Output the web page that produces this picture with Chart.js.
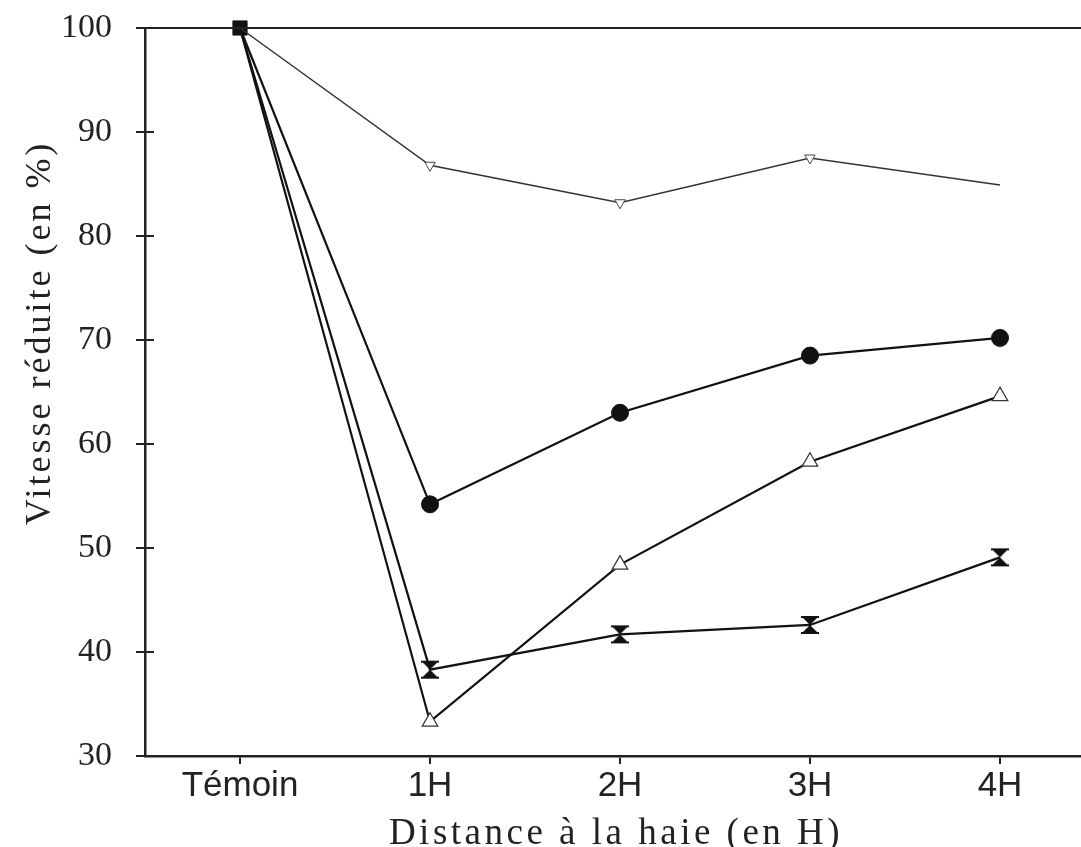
<!DOCTYPE html>
<html>
<head>
<meta charset="utf-8">
<script src="https://cdn.jsdelivr.net/npm/chart.js@4.4.1/dist/chart.umd.min.js"></script>
<style>
  html, body { margin: 0; padding: 0; background: #fff; overflow: hidden; }
  #zone { width: 1081px; height: 847px; }
</style>
</head>
<body>
<div id="zone"><canvas id="graphique"></canvas></div>
<script>
// Données
const categories = ["Témoin", "1H", "2H", "3H", "4H"];
const yTicks = [30, 40, 50, 60, 70, 80, 90, 100];

const serieHaut = [100, 86.8, 83.2, 87.5, 84.9];
const serieRonds = [100, 54.2, 63.0, 68.5, 70.2];
const serieTriangles = [100, 33.3, 48.4, 58.3, 64.6];
const serieSabliers = [100, 38.3, 41.7, 42.6, 49.1];

const titreX = "Distance à la haie (en H)";
const titreY = "Vitesse réduite (en %)";

// marqueur "sablier" (deux triangles pleins + barres)
function sablier() {
  const c = document.createElement("canvas");
  c.width = 22; c.height = 22;
  const g = c.getContext("2d");
  g.fillStyle = "#111";
  g.beginPath();
  g.moveTo(3, 3); g.lineTo(19, 3); g.lineTo(11, 11); g.closePath();
  g.moveTo(3, 19); g.lineTo(19, 19); g.lineTo(11, 11); g.closePath();
  g.fill();
  g.fillRect(2, 2, 18, 2);
  g.fillRect(2, 18, 18, 2);
  return c;
}

function points(vals) {
  return vals.map((v, i) => ({ x: i, y: v }));
}

// graduations qui traversent l'axe, cadre du haut et titres espacés
const decor = {
  id: "decor",
  afterDraw(chart) {
    const ctx = chart.ctx;
    const a = chart.chartArea;
    const y = chart.scales.y;
    ctx.save();
    ctx.strokeStyle = "#222";
    ctx.lineWidth = 2;
    yTicks.forEach(t => {
      if (t === 30 || t === 100) return;
      const py = y.getPixelForValue(t);
      ctx.beginPath();
      ctx.moveTo(a.left, py);
      ctx.lineTo(a.left + 9, py);
      ctx.stroke();
    });
    ctx.beginPath();
    ctx.moveTo(a.left, a.top);
    ctx.lineTo(a.right, a.top);
    ctx.stroke();

    // titres des axes
    ctx.fillStyle = "#222";
    ctx.font = "37px 'Liberation Serif'";
    ctx.letterSpacing = "3.5px";
    ctx.textAlign = "center";
    ctx.textBaseline = "alphabetic";
    ctx.fillText(titreX, 616, 844);

    ctx.font = "36px 'Liberation Serif'";
    ctx.letterSpacing = "3px";
    ctx.translate(50, 333);
    ctx.rotate(-Math.PI / 2);
    ctx.fillText(titreY, 0, 0);
    ctx.restore();
  }
};

const ctx = document.getElementById("graphique").getContext("2d");

new Chart(ctx, {
  type: "line",
  data: {
    datasets: [
      {
        label: "série haute",
        data: points(serieHaut),
        borderColor: "#333",
        borderWidth: 1.5,
        pointStyle: "triangle",
        rotation: 180,
        pointRadius: [0, 6, 6, 6, 0],
        pointBorderColor: "#444",
        pointBackgroundColor: "#fff",
        pointBorderWidth: 1
      },
      {
        label: "ronds",
        data: points(serieRonds),
        borderColor: "#111",
        borderWidth: 2.2,
        pointStyle: ["rect", "circle", "circle", "circle", "circle"],
        pointRadius: [10, 8.5, 8.5, 8.5, 8.5],
        pointBackgroundColor: "#111",
        pointBorderColor: "#111",
        pointBorderWidth: 1
      },
      {
        label: "triangles",
        data: points(serieTriangles),
        borderColor: "#111",
        borderWidth: 2.2,
        pointStyle: "triangle",
        pointRadius: [0, 9, 9, 9, 9],
        pointBackgroundColor: "#fff",
        pointBorderColor: "#333",
        pointBorderWidth: 1.2
      },
      {
        label: "sabliers",
        data: points(serieSabliers),
        borderColor: "#111",
        borderWidth: 2.2,
        pointStyle: sablier(),
        pointRadius: [0, 10, 10, 10, 10]
      }
    ]
  },
  options: {
    responsive: true,
    maintainAspectRatio: false,
    animation: false,
    clip: false,
    layout: { autoPadding: false, padding: { top: 28, right: 0, left: 0, bottom: 0 } },
    plugins: { legend: { display: false }, tooltip: { enabled: false } },
    elements: { line: { tension: 0 } },
    scales: {
      x: {
        type: "linear",
        min: -0.5,
        max: -0.5 + 936 / 190,
        afterBuildTicks: s => { s.ticks = categories.map((c, i) => ({ value: i })); },
        afterFit: s => { s.height = 91; s.paddingLeft = 0; s.paddingRight = 0; },
        ticks: {
          callback: v => categories[v],
          color: "#222",
          font: { family: "Liberation Sans", size: 35 },
          padding: 1,
          maxRotation: 0
        },
        grid: { drawOnChartArea: false, tickLength: 8, color: "#222", lineWidth: 2 },
        border: { color: "#222", width: 2.5 }
      },
      y: {
        min: 30,
        max: 100,
        afterBuildTicks: s => { s.ticks = yTicks.map(v => ({ value: v })); },
        afterFit: s => { s.width = 145; s.paddingTop = 0; s.paddingBottom = 0; },
        ticks: {
          color: "#222",
          font: { family: "Liberation Serif", size: 34 },
          padding: 24
        },
        grid: { drawOnChartArea: false, tickLength: 9, color: "#222", lineWidth: 2 },
        border: { color: "#222", width: 2.5 }
      }
    }
  },
  plugins: [decor]
});
</script>
</body>
</html>
